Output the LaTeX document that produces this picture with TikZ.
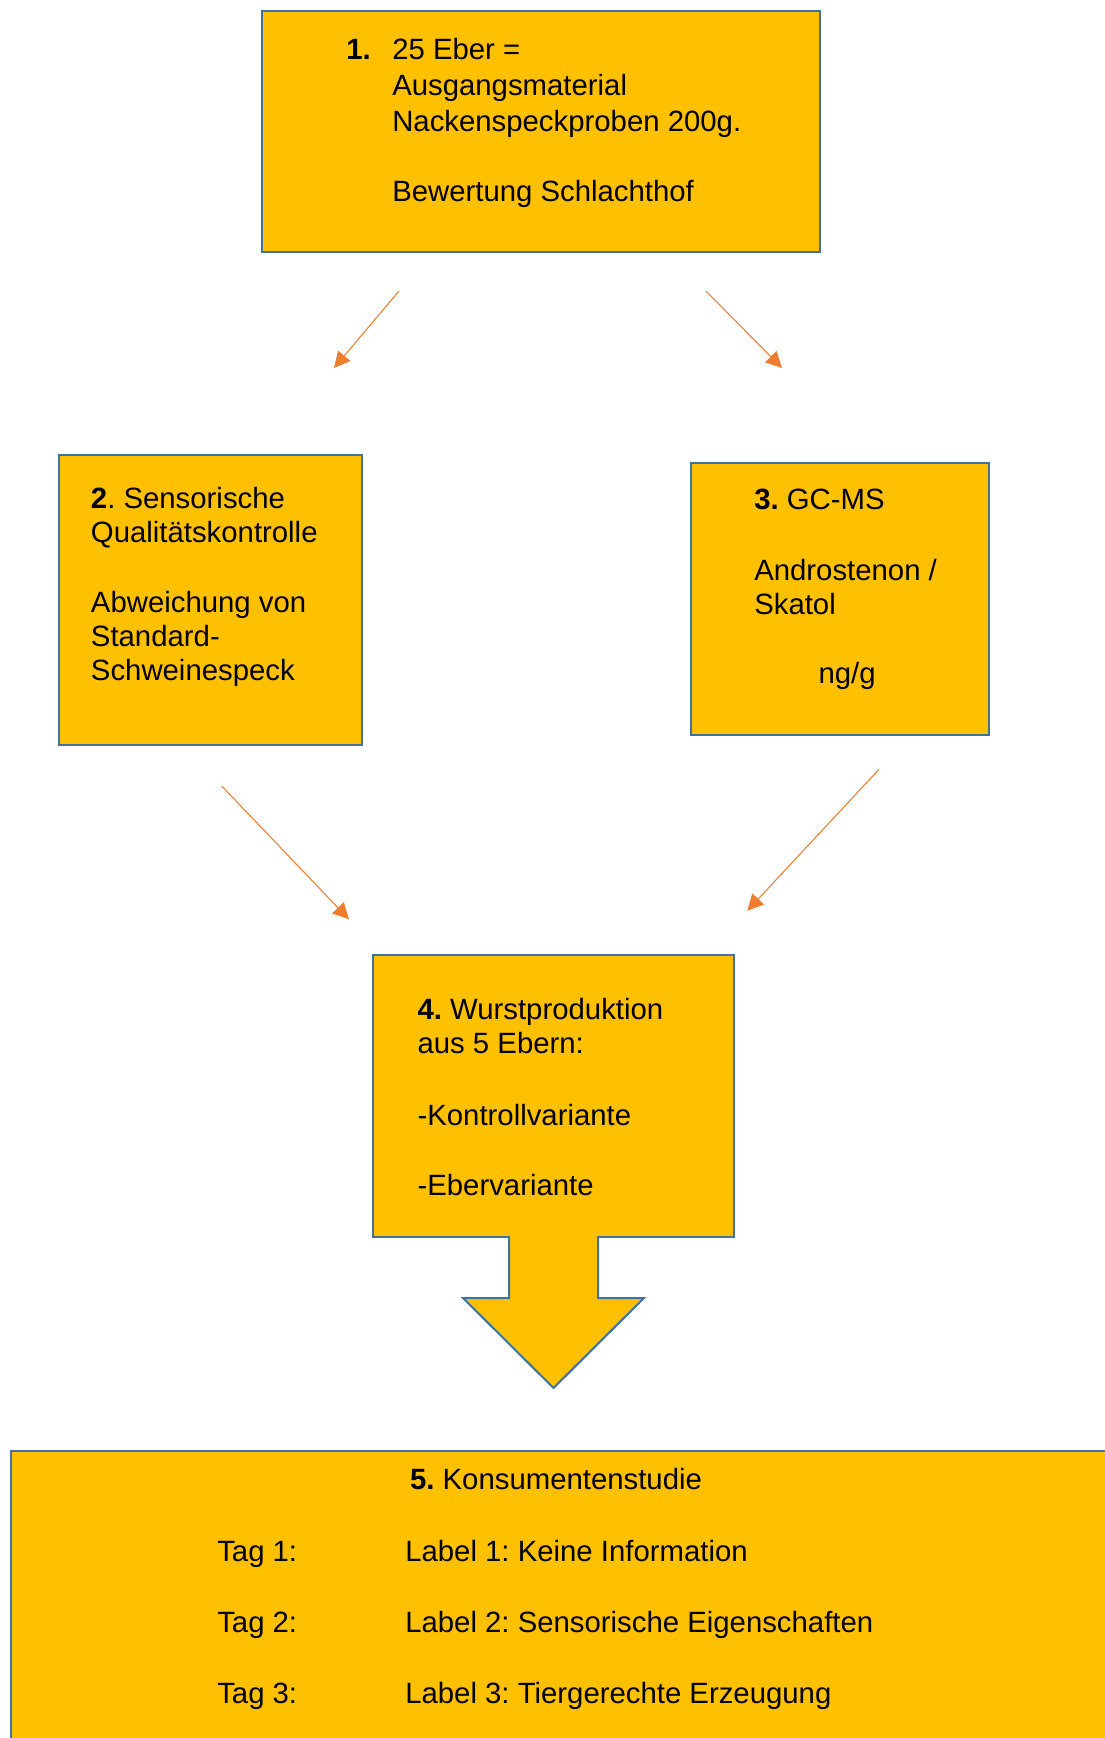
\documentclass[tikz,border=0pt]{standalone}
\usepackage{fontspec}
\setmainfont{Liberation Sans}
\usepackage{xcolor}
\usepackage{tikz}
\usetikzlibrary{arrows.meta}
\definecolor{boxfill}{HTML}{FFC000}
\definecolor{boxblue}{HTML}{41719C}
\definecolor{arroworange}{HTML}{ED7D31}
\frenchspacing

\begin{document}
\begin{tikzpicture}
        [x=0.75pt,y=-0.75pt,
         box/.style={rectangle,draw=boxblue,fill=boxfill,line width=1.5pt,inner sep=0pt},
         txt/.style={anchor=base west,align=left,inner sep=0pt,font=\fontsize{22}{25.5}\selectfont},
         conn/.style={draw=arroworange,line width=0.8pt,-{Triangle[length=12pt,width=12pt]}}]
        \useasboundingbox (0,0) rectangle (1105,1738);

        % boxes
        \node[box,minimum width=418.5pt,minimum height=180.75pt] (s1) at (541,131.5) {};
        \node[box,minimum width=227.25pt,minimum height=217.5pt] (s2) at (210.5,599.5) {};
        \node[box,minimum width=223.5pt,minimum height=204pt] (s3) at (839.5,599) {};
        \node[box,minimum width=270.75pt,minimum height=211.5pt] (s4) at (553.5,1096) {};
        \node[box,anchor=north west,minimum width=840pt,minimum height=240pt] (s5) at (10,1450) {};

        % block arrow below box 4
        \draw[box,line join=miter] (509,1236) -- (509,1298) -- (463,1298) -- (553.5,1388)
          -- (644,1298) -- (598,1298) -- (598,1236);

        % texts (multi-line nodes sit on the baseline of their last line)
        \node[txt] (n1) at (346,59.3) {\textbf{1.}};
        \node[txt,font=\fontsize{22}{27.1}\selectfont] (t1) at (392,201.7)
          {25 Eber =\\Ausgangsmaterial\\Nackenspeckproben 200g.\\[25.4pt]Bewertung Schlachthof};
        \node[txt] (t2) at (90.7,680)
          {\textbf{2}. Sensorische\\Qualitätskontrolle\\[27pt]Abweichung von\\Standard-\\Schweinespeck};
        \node[txt] (t3) at (754,614) {\textbf{3.} GC-MS\\[27.75pt]Androstenon /\\Skatol};
        \node[txt] (u3) at (818.3,683.3) {ng/g};
        \node[txt] (t4) at (417.3,1195)
          {\textbf{4.} Wurstproduktion\\aus 5 Ebern:\\[28pt]-Kontrollvariante\\[27pt]-Ebervariante};
        \node[txt,anchor=base] (t5) at (556,1489) {\textbf{5.} Konsumentenstudie};
        \node[txt,font=\fontsize{22}{53.25}\selectfont] (d5) at (217,1703) {Tag 1:\\Tag 2:\\Tag 3:};
        \node[txt,font=\fontsize{22}{53.25}\selectfont] (l5) at (405,1703)
          {Label 1: Keine Information\\Label 2: Sensorische Eigenschaften\\Label 3: Tiergerechte Erzeugung};

        % connectors
        \coordinate (a1) at (399,291); \coordinate (a2) at (334,368);
        \coordinate (b1) at (706,291); \coordinate (b2) at (782,368);
        \coordinate (c1) at (221.7,786); \coordinate (c2) at (349,919.3);
        \coordinate (d1) at (879,769.3); \coordinate (d2) at (747.3,910.7);

        \foreach \from/\to in {a1/a2,b1/b2,c1/c2,d1/d2} \draw[conn] (\from) -- (\to);
    \end{tikzpicture}
\end{document}
